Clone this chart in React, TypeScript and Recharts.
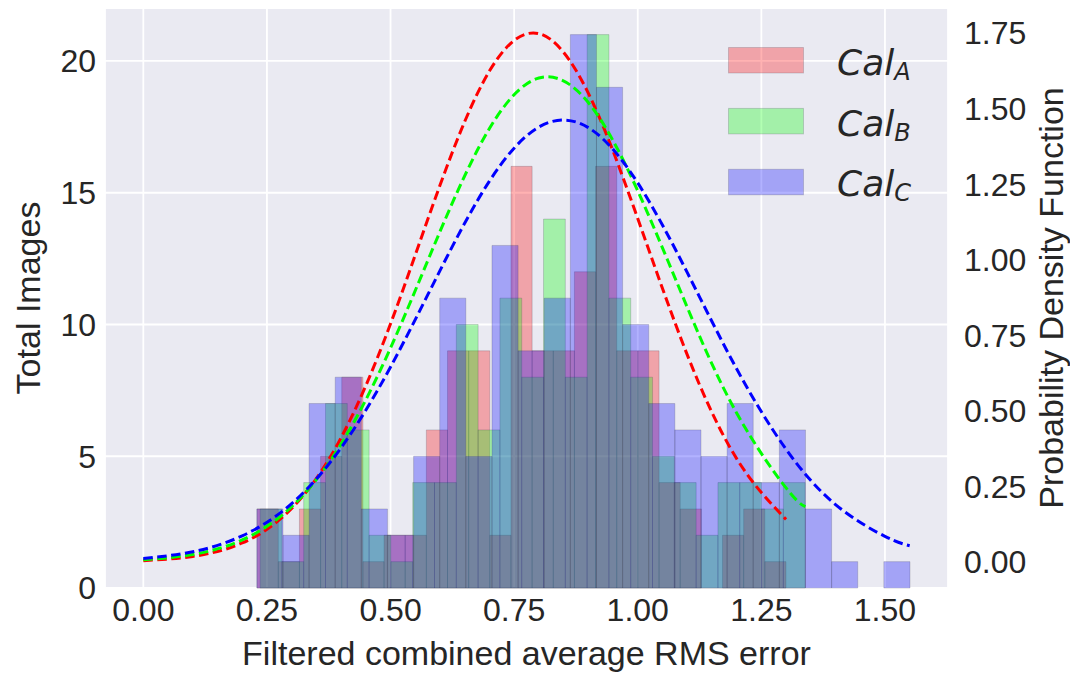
import React from 'react';
import { ComposedChart, Line, XAxis, YAxis, CartesianGrid, ReferenceArea } from 'recharts';

// histogram counts (25 bins each)
const redCounts = [3, 1, 3, 5, 8, 1, 2, 2, 6, 9, 9, 2, 16, 9, 9, 12, 16, 9, 9, 4, 3, 0, 2, 3, 1];
const greenCounts = [3, 1, 4, 7, 6, 2, 1, 4, 4, 10, 6, 11, 8, 14, 8, 21, 11, 8, 5, 4, 2, 4, 4, 3, 4];
const blueCounts = [3, 2, 7, 8, 3, 2, 5, 11, 5, 13, 9, 11, 21, 19, 10, 7, 6, 5, 7, 4, 6, 3, 1, 0, 1];

// data range of each series (first and last bin edge)
const redRange = [0.2302, 1.2998];
const greenRange = [0.2362, 1.3386];
const blueRange = [0.2296, 1.5506];

// probability density curves (right axis)
const redPdfX = [0, 0.1, 0.2, 0.3, 0.4, 0.5, 0.6, 0.7, 0.8, 0.9, 1.0, 1.1, 1.2, 1.3];
const redPdf = [0.0045, 0.0185, 0.063, 0.177, 0.411, 0.788, 1.246, 1.624, 1.748, 1.551, 1.136, 0.686, 0.342, 0.141];
const greenPdfX = [0, 0.1, 0.2, 0.3, 0.4, 0.5, 0.6, 0.7, 0.8, 0.9, 1.0, 1.1, 1.2, 1.3, 1.339];
const greenPdf = [0.0071, 0.0248, 0.073, 0.183, 0.39, 0.708, 1.093, 1.434, 1.601, 1.52, 1.228, 0.843, 0.493, 0.245, 0.183];
const bluePdfX = [0, 0.1, 0.2, 0.3, 0.4, 0.5, 0.6, 0.7, 0.8, 0.9, 1.0, 1.1, 1.2, 1.3, 1.4, 1.5, 1.55];
const bluePdf = [0.0116, 0.0338, 0.0865, 0.193, 0.378, 0.645, 0.964, 1.26, 1.439, 1.437, 1.254, 0.958, 0.639, 0.373, 0.19, 0.085, 0.054];

const xTicks = [0, 0.25, 0.5, 0.75, 1.0, 1.25, 1.5];
const leftTicks = [0, 5, 10, 15, 20];
const rightTicks = [0, 0.25, 0.5, 0.75, 1.0, 1.25, 1.5, 1.75];

const legendItems = [
  { sub: 'A', color: '#ff0000' },
  { sub: 'B', color: '#00ff00' },
  { sub: 'C', color: '#0000ff' },
];

const TEXT = '#262626';
const TICK_SIZE = 32;
const LABEL_SIZE = 34;

function makeBins(counts: number[], range: number[]) {
  const w = (range[1] - range[0]) / counts.length;
  return counts.map((c, i) => ({ x1: range[0] + i * w, x2: range[0] + (i + 1) * w, c }));
}

function makeCurve(xs: number[], ys: number[]) {
  return xs.map((x, i) => ({ x, y: ys[i] }));
}

const series = [
  { name: 'red', color: '#ff0000', bins: makeBins(redCounts, redRange), curve: makeCurve(redPdfX, redPdf) },
  { name: 'green', color: '#00ff00', bins: makeBins(greenCounts, greenRange), curve: makeCurve(greenPdfX, greenPdf) },
  { name: 'blue', color: '#0000ff', bins: makeBins(blueCounts, blueRange), curve: makeCurve(bluePdfX, bluePdf) },
];

export default function App() {
  return (
    <div style={{ position: 'absolute', left: 0, top: 0, width: 1070, height: 673, background: '#fff', fontFamily: '"Liberation Sans", Arial, sans-serif' }}>
      <ComposedChart width={1070} height={673} margin={{ top: 8, right: 0, bottom: 0, left: 0 }}>
        <CartesianGrid yAxisId="left" fill="#EAEAF2" stroke="#ffffff" strokeWidth={1.8} />
        <XAxis
          type="number"
          dataKey="x"
          domain={[-0.0775, 1.6275]}
          allowDataOverflow
          ticks={xTicks}
          interval={0}
          tickFormatter={(v: number) => v.toFixed(2)}
          axisLine={false}
          tickLine={false}
          tickSize={0}
          tickMargin={10}
          height={85}
          tick={{ fill: TEXT, fontSize: TICK_SIZE }}
          label={{ value: 'Filtered combined average RMS error', position: 'insideBottom', offset: 8, fill: TEXT, fontSize: LABEL_SIZE }}
        />
        <YAxis
          yAxisId="left"
          orientation="left"
          domain={[0, 22.01]}
          allowDataOverflow
          ticks={leftTicks}
          interval={0}
          axisLine={false}
          tickLine={false}
          tickSize={0}
          tickMargin={9}
          width={105}
          tick={{ fill: TEXT, fontSize: TICK_SIZE }}
          label={{ value: 'Total Images', angle: -90, position: 'insideLeft', offset: 28, fill: TEXT, fontSize: LABEL_SIZE, style: { textAnchor: 'middle' } }}
        />
        <YAxis
          yAxisId="right"
          orientation="right"
          domain={[-0.086, 1.8327]}
          allowDataOverflow
          ticks={rightTicks}
          interval={0}
          tickFormatter={(v: number) => v.toFixed(2)}
          axisLine={false}
          tickLine={false}
          tickSize={0}
          tickMargin={16}
          width={122}
          tick={{ fill: TEXT, fontSize: TICK_SIZE }}
          label={{ value: 'Probability Density Function', angle: -90, position: 'insideRight', offset: 19, fill: TEXT, fontSize: LABEL_SIZE, style: { textAnchor: 'middle' } }}
        />
        {series.map(s =>
          s.bins
            .filter(b => b.c > 0)
            .map((b, i) => (
              <ReferenceArea
                key={`${s.name}-${i}`}
                yAxisId="left"
                x1={b.x1}
                x2={b.x2}
                y1={0}
                y2={b.c}
                fill={s.color}
                fillOpacity={0.3}
                stroke="#333344"
                strokeOpacity={0.2}
                strokeWidth={1}
                ifOverflow="visible"
              />
            ))
        )}
        {series.map(s => (
          <Line
            key={`pdf-${s.name}`}
            yAxisId="right"
            data={s.curve}
            dataKey="y"
            type="natural"
            stroke={s.color}
            strokeWidth={3}
            strokeDasharray="9.5 4.5"
            dot={false}
            activeDot={false}
            isAnimationActive={false}
          />
        ))}
      </ComposedChart>
      <svg width={1070} height={673} style={{ position: 'absolute', left: 0, top: 0, pointerEvents: 'none' }}>
        {legendItems.map((it, i) => (
          <g key={it.sub}>
            <rect x={728.5} y={47.5 + i * 60.9} width={75} height={25.5} fill={it.color} fillOpacity={0.3} stroke="#333344" strokeOpacity={0.2} />
            <text x={837} y={75 + i * 60.5} fill={TEXT} fontFamily="DejaVu Sans" fontStyle="italic" fontSize={36}>
              Cal<tspan fontSize={24} dy={5}>{it.sub}</tspan>
            </text>
          </g>
        ))}
      </svg>
    </div>
  );
}
